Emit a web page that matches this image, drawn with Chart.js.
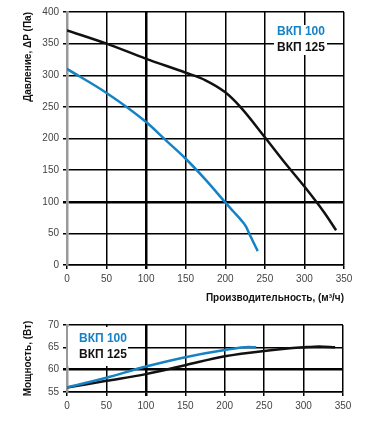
<!DOCTYPE html>
<html>
<head>
<meta charset="utf-8">
<script src="https://cdn.jsdelivr.net/npm/chart.js@4"></script>
<style>
  body { margin: 0; background: #fff; }
  #wrap { position: relative; width: 377px; height: 424px; }
  #pressure { position: absolute; left: 0; top: 0; }
  #power { position: absolute; left: 0; top: 300px; }
</style>
</head>
<body>
<div id="wrap">
  <canvas id="pressure" width="377" height="310"></canvas>
  <canvas id="power" width="377" height="124"></canvas>
</div>
<script>
// data
const flowTicks = [0, 50, 100, 150, 200, 250, 300, 350];

const vkp100_flow = [0, 50, 100, 125, 150, 175, 200, 210, 220, 226, 232, 241];
const vkp100_pressure = [310, 272, 226, 197, 168, 135, 99, 85, 71, 61, 45, 22];

const vkp125_flow = [0, 50, 100, 150, 175, 200, 219, 250, 275, 300, 325, 340];
const vkp125_pressure = [371, 350, 326, 304, 292, 273, 250, 202, 162, 124, 83, 55];

const vkp100_pflow = [0, 50, 100, 150, 200, 230, 240];
const vkp100_power = [56, 58.2, 60.7, 62.8, 64.4, 65.1, 65];

const vkp125_pflow = [0, 50, 100, 150, 200, 250, 300, 320, 340];
const vkp125_power = [56, 57.5, 59, 61, 63, 64.2, 65, 65.2, 65];

const seriesNames = ['ВКП 100', 'ВКП 125'];
const seriesColors = ['#1582c5', '#111111'];

// helpers
const FONT = "'Liberation Sans', Arial, sans-serif";

function points(xs, ys) {
    return xs.map((x, i) => ({ x: x, y: ys[i] }));
}

function legendBox(box, lines) {
    return {
        id: 'legendBox',
        afterDraw(chart) {
            const c = chart.ctx;
            c.save();
            c.fillStyle = '#fff';
            c.fillRect(box[0], box[1], box[2], box[3]);
            c.font = "bold 12px " + FONT;
            c.textBaseline = 'middle';
            c.textAlign = 'left';
            lines.forEach(l => {
                c.fillStyle = l.color;
                c.fillText(l.text, l.x, l.y);
            });
            c.restore();
        }
    };
}

function lineSet(label, data, color) {
    return {
        label: label,
        data: data,
        borderColor: color,
        borderWidth: 2.5,
        pointRadius: 0,
        fill: false,
        cubicInterpolationMode: 'monotone'
    };
}

function xScale(height, title) {
    return {
        type: 'linear',
        min: 0, max: 350,
        afterBuildTicks: s => { s.ticks = flowTicks.map(v => ({ value: v })); },
        afterFit: s => { s.height = height; },
        grid: {
            color: '#000',
            lineWidth: c => (c.tick && c.tick.value === 100) ? 2.5 : 1.5,
            tickLength: 4,
            tickColor: '#000'
        },
        border: { color: '#000', width: 1.5 },
        ticks: { color: '#444', font: { family: FONT, size: 10 }, padding: 4, maxRotation: 0 },
        title: title
    };
}

function yScale(min, max, step, thick, title) {
    return {
        min: min, max: max,
        afterFit: s => { s.width = 67; },
        grid: {
            color: '#000',
            lineWidth: c => (c.tick && c.tick.value === thick) ? 2.5 : 1.5,
            tickLength: 4,
            tickColor: '#000'
        },
        border: { color: '#999', width: 2.5 },
        ticks: { stepSize: step, color: '#444', font: { family: FONT, size: 10 }, padding: 4 },
        title: title
    };
}

// pressure chart
const ctx1 = document.querySelector('#pressure').getContext('2d');
new Chart(ctx1, {
    type: 'line',
    data: {
        datasets: [
            lineSet(seriesNames[0], points(vkp100_flow, vkp100_pressure), seriesColors[0]),
            lineSet(seriesNames[1], points(vkp125_flow, vkp125_pressure), seriesColors[1])
        ]
    },
    options: {
        responsive: false,
        animation: false,
        devicePixelRatio: 1,
        layout: { padding: { top: 12, right: 33, left: 0, bottom: 0 } },
        plugins: { legend: { display: false }, tooltip: { enabled: false } },
        scales: {
            x: xScale(45, {
                display: true, text: 'Производительность, (м³/ч)', align: 'end',
                color: '#111', font: { family: FONT, size: 10, weight: 'bold' },
                padding: { top: 0, bottom: 6 }
            }),
            y: yScale(0, 400, 50, 100, {
                display: true, text: 'Давление, ΔP (Па)', align: 'end',
                color: '#111', font: { family: FONT, size: 10, weight: 'bold' },
                padding: { top: 22, bottom: 0 }
            })
        }
    },
    plugins: [legendBox([274, 25, 53, 30], [
        { text: seriesNames[0], color: seriesColors[0], x: 277, y: 32 },
        { text: seriesNames[1], color: seriesColors[1], x: 277, y: 48 }
    ])]
});

// power chart
const ctx2 = document.querySelector('#power').getContext('2d');
new Chart(ctx2, {
    type: 'line',
    data: {
        datasets: [
            lineSet(seriesNames[0], points(vkp100_pflow, vkp100_power), seriesColors[0]),
            lineSet(seriesNames[1], points(vkp125_pflow, vkp125_power), seriesColors[1])
        ]
    },
    options: {
        responsive: false,
        animation: false,
        devicePixelRatio: 1,
        layout: { padding: { top: 25, right: 34, left: 0, bottom: 0 } },
        plugins: { legend: { display: false }, tooltip: { enabled: false } },
        scales: {
            x: xScale(32, { display: false }),
            y: yScale(55, 70, 5, 60, {
                display: true, text: 'Мощность, (Вт)', align: 'center',
                color: '#111', font: { family: FONT, size: 10, weight: 'bold' },
                padding: { top: 22, bottom: 0 }
            })
        }
    },
    plugins: [legendBox([68, 27, 60, 39], [
        { text: seriesNames[0], color: seriesColors[0], x: 79, y: 39 },
        { text: seriesNames[1], color: seriesColors[1], x: 79, y: 55 }
    ])]
});
</script>
</body>
</html>
